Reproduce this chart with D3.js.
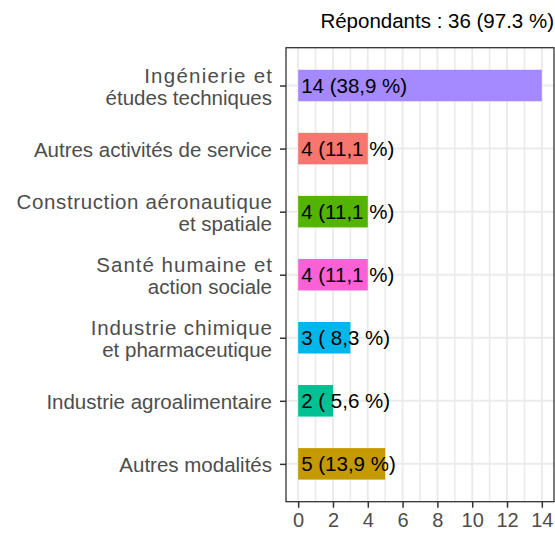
<!DOCTYPE html>
<html lang="fr">
<head>
<meta charset="UTF-8">
<title>Répondants</title>
<script src="https://cdn.jsdelivr.net/npm/d3@7"></script>
<style>
  * { margin: 0; padding: 0; }
  body { background: #fff; }
  svg { display: block; font-family: "Liberation Sans", Arial, sans-serif; }
  .tick line { stroke: #333333; stroke-width: 1.5; }
  .tick text { fill: #4D4D4D; font-size: 20px; }
  .ylab text { font-size: 20.5px; }
</style>
</head>
<body>
<div id="chart"></div>
<script>
// data, top to bottom
var categories = [
  ["Ingénierie et", "études techniques"],
  ["Autres activités de service"],
  ["Construction aéronautique", "et spatiale"],
  ["Santé humaine et", "action sociale"],
  ["Industrie chimique", "et pharmaceutique"],
  ["Industrie agroalimentaire"],
  ["Autres modalités"]
];
var counts = [14, 4, 4, 4, 3, 2, 5];
var barLabels = ["14 (38,9 %)", "4 (11,1 %)", "4 (11,1 %)", "4 (11,1 %)", "3 ( 8,3 %)", "2 ( 5,6 %)", "5 (13,9 %)"];
var colors = ["#A58AFF", "#F8766D", "#53B400", "#FB61D7", "#00B6EB", "#00C094", "#C49A00"];
var xTicks = [0, 2, 4, 6, 8, 10, 12, 14];
var title = "Répondants : 36 (97.3 %)";

var w = 555, h = 533;
var panel = {left: 286, right: 554, top: 47.7, bottom: 501.7};

var svg = d3.select('#chart').append('svg')
    .attr('width', w)
    .attr('height', h);

var xScale = d3.scaleLinear()
    .domain([-0.7, 14.7])
    .range([panel.left, panel.right]);

var yScale = d3.scalePoint()
    .domain(d3.range(categories.length))
    .range([panel.top, panel.bottom])
    .padding(0.6);

var bandH = yScale.step() * 0.5;

// panel bg
svg.append('rect')
    .attr('x', panel.left).attr('y', panel.top)
    .attr('width', panel.right - panel.left)
    .attr('height', panel.bottom - panel.top)
    .attr('fill', '#fff');

// grid: minor verticals at odd numbers
var grid = svg.append('g');
grid.selectAll('line.minor')
    .data(d3.range(1, 15, 2))
    .enter().append('line')
    .attr('class', 'minor')
    .attr('x1', d => xScale(d)).attr('x2', d => xScale(d))
    .attr('y1', panel.top).attr('y2', panel.bottom)
    .attr('stroke', '#EBEBEB').attr('stroke-width', 1.6);
grid.selectAll('line.majorx')
    .data(xTicks)
    .enter().append('line')
    .attr('class', 'majorx')
    .attr('x1', d => xScale(d)).attr('x2', d => xScale(d))
    .attr('y1', panel.top).attr('y2', panel.bottom)
    .attr('stroke', '#EBEBEB').attr('stroke-width', 2);
grid.selectAll('line.majory')
    .data(yScale.domain())
    .enter().append('line')
    .attr('class', 'majory')
    .attr('x1', panel.left).attr('x2', panel.right)
    .attr('y1', d => yScale(d)).attr('y2', d => yScale(d))
    .attr('stroke', '#EBEBEB').attr('stroke-width', 2);

// bars
svg.selectAll('rect.bar')
    .data(counts)
    .enter().append('rect')
    .attr('class', 'bar')
    .attr('x', xScale(0))
    .attr('y', (d, i) => yScale(i) - bandH / 2)
    .attr('width', d => xScale(d) - xScale(0))
    .attr('height', bandH)
    .attr('fill', (d, i) => colors[i]);

// bar labels
svg.selectAll('text.lab')
    .data(barLabels)
    .enter().append('text')
    .attr('class', 'lab')
    .attr('x', xScale(0) + 3)
    .attr('y', (d, i) => yScale(i))
    .attr('dy', '0.36em')
    .style('font-size', '20.5px')
    .style('white-space', 'pre')
    .attr('fill', '#000')
    .text(d => d);

// panel border
svg.append('rect')
    .attr('x', panel.left).attr('y', panel.top)
    .attr('width', panel.right - panel.left)
    .attr('height', panel.bottom - panel.top)
    .attr('fill', 'none')
    .attr('stroke', '#333333').attr('stroke-width', 1.3);

// x axis
var xAxis = d3.axisBottom(xScale)
    .tickValues(xTicks)
    .tickSize(6)
    .tickPadding(5.5);
svg.append('g')
    .attr('transform', 'translate(0,' + panel.bottom + ')')
    .call(xAxis)
    .call(g => g.select('.domain').remove());

// y axis
var yAxis = d3.axisLeft(yScale)
    .tickSize(6)
    .tickFormat('');
var yg = svg.append('g')
    .attr('class', 'ylab')
    .attr('transform', 'translate(' + panel.left + ',0)')
    .call(yAxis)
    .call(g => g.select('.domain').remove());

yg.selectAll('.tick').each(function (d) {
    var lines = categories[d];
    var t = d3.select(this).select('text')
        .attr('x', -14)
        .attr('dy', null)
        .attr('text-anchor', 'end');
    var base = 7.7 - (lines.length - 1) * 10.85;
    lines.forEach(function (s, k) {
        var sp = t.append('tspan')
            .attr('x', -14)
            .attr('y', base + k * 21.7)
            .text(s);
        // first line of wrapped labels sits a bit wider in the original
        if (lines.length > 1 && k === 0) {
            var len = sp.node().getComputedTextLength();
            sp.attr('textLength', len + 15).attr('lengthAdjust', 'spacing');
        }
    });
});

// title
svg.append('text')
    .attr('x', 554)
    .attr('y', 27.7)
    .attr('text-anchor', 'end')
    .style('font-size', '20.5px')
    .attr('fill', '#000')
    .text(title);
</script>
</body>
</html>
